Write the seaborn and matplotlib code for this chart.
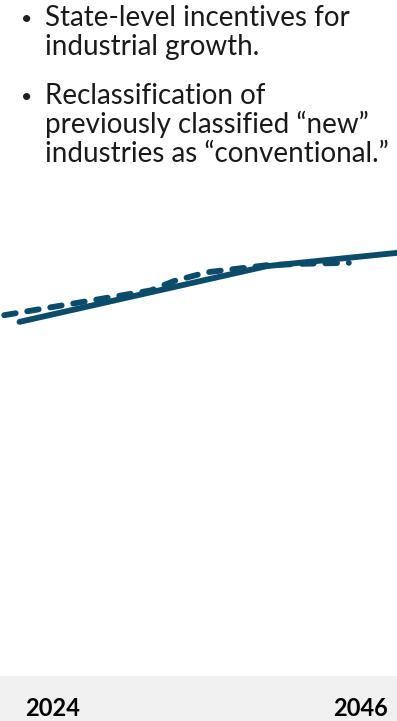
import matplotlib
matplotlib.use("Agg")
import matplotlib.pyplot as plt
import seaborn as sns
import pandas as pd
from matplotlib.patches import Rectangle

sns.set_theme(style="white")
plt.rcParams['font.family'] = ['Lato', 'DejaVu Sans']

# Data (arbitrary index units)
solid_years = [2021.6, 2039.3, 2049.0]
solid_values = [74.4, 86.1, 89.0]
dashed_years = [2020.5, 2031.0, 2032.7, 2035.0, 2039.3, 2042.0, 2045.2]
dashed_values = [75.8, 81.0, 83.0, 84.8, 86.3, 86.6, 86.8]
tick_years = [2024, 2046]
bullets = [
    ["State-level incentives for", "industrial growth."],
    ["Reclassification of", "previously classified \u201cnew\u201d",
     "industries as \u201cconventional.\u201d"],
]

W, H = 397, 721
fig = plt.figure(figsize=(W / 100, H / 100), dpi=100)
fig.patch.set_facecolor("white")

band_h = 45
fig.patches.append(Rectangle((0, 0), 1, band_h / H, transform=fig.transFigure,
                             facecolor="#f0f0f0", edgecolor="none", zorder=-5))

ax = fig.add_axes([0, band_h / H, 1, 1 - band_h / H])
ax.patch.set_alpha(0)
color = "#0a4c6a"

df_s = pd.DataFrame({"year": solid_years, "value": solid_values})
df_d = pd.DataFrame({"year": dashed_years, "value": dashed_values})
sns.lineplot(data=df_s, x="year", y="value", ax=ax, color=color, lw=4.2,
             solid_capstyle="round")
sns.lineplot(data=df_d, x="year", y="value", ax=ax, color=color, lw=4.2,
             linestyle=(0, (2.0, 2.0)), dash_capstyle="round")

ax.set_xlim(2020.2, 2048.65)
ax.set_ylim(0, 676 / 4.76)
ax.set_xticks(tick_years)
ax.set_xticklabels([str(y) for y in tick_years], fontsize=17, fontweight="bold",
                   color="#000000")
ax.tick_params(axis="x", length=0, pad=15)
ax.set_yticks([])
ax.set_xlabel("")
ax.set_ylabel("")
for s in ax.spines.values():
    s.set_visible(False)

# Bullet text
fs = 20
baselines = [[26, 55], [104, 133, 162]]
for lines, bls in zip(bullets, baselines):
    fig.text(21 / W, 1 - (bls[0] - 1) / H, "\u2022", fontsize=14, va="baseline",
             ha="left", color="#222222")
    for t, b in zip(lines, bls):
        fig.text(45 / W, 1 - b / H, t, fontsize=fs, va="baseline", ha="left",
                 color="#1a1a1a")

fig.savefig("out.png", dpi=100)
